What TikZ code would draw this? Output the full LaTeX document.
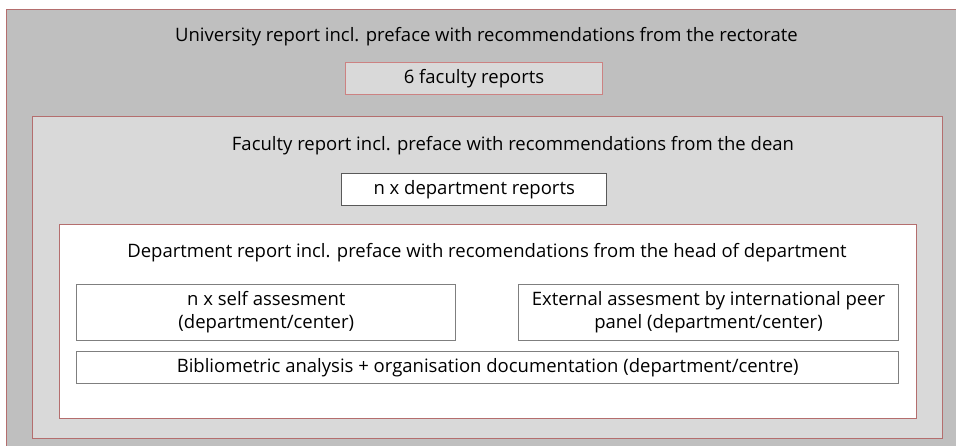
\documentclass[tikz,border=0pt]{standalone}
\usepackage{fontspec}
\setmainfont{Open Sans}
\usetikzlibrary{positioning}
\definecolor{unigray}{RGB}{191,191,191}
\definecolor{facgray}{RGB}{217,217,217}
\definecolor{rimred}{RGB}{180,110,110}
\definecolor{softred}{RGB}{204,130,130}
\definecolor{partgray}{RGB}{127,127,127}
\definecolor{deptline}{RGB}{89,89,89}
\tikzset{
  panel/.style={draw=rimred,line width=1pt},
  part/.style={draw=partgray,fill=white,line width=1pt,align=center,inner sep=0pt},
  head/.style={anchor=base,inner sep=0pt},
}
\newcommand*{\txt}{\fontsize{18.5}{23}\selectfont}

\begin{document}
\begin{tikzpicture}[x=1pt,y=-1pt,every node/.style={font=\txt}]
\useasboundingbox (0,0) rectangle (956,445);
\clip (0,0) rectangle (956,445);
\fill[white] (0,0) rectangle (956,445);

% university level
\draw[panel,fill=unigray] (6.5,9.5) rectangle (970,460);
\node[head] (uni) at (486.5,41.5) {University report incl. preface with recommendations from the rectorate};
\node[part,draw=softred,fill=facgray,minimum width=256.6,minimum height=32] (facrep) at (474,78.3) {6 faculty reports};

% faculty level
\draw[panel,fill=facgray] (32.5,116.5) rectangle (942.3,438.3);
\node[head] (fac) at (513,150) {Faculty report incl. preface with recommendations from the dean};
\node[part,draw=deptline,minimum width=265,minimum height=32] (deprep) at (474.2,189.3) {n x department reports};

% department level
\draw[panel,fill=white] (59.5,224) rectangle (916,418.3);
\node[head] (dep) at (487,257.7) {Department report incl. preface with recomendations from the head of department};
\node[part,minimum width=379.3,minimum height=56] (self) at (266.3,312.3) {n x self assesment\\(department/center)};
\node[part,minimum width=380.4,minimum height=56] (ext) at (708.5,312.3) {External assesment by international peer\\panel (department/center)};
\node[part,minimum width=822,minimum height=31.6] (biblio) at (487.7,367.5) {Bibliometric analysis + organisation documentation (department/centre)};
\end{tikzpicture}
\end{document}
